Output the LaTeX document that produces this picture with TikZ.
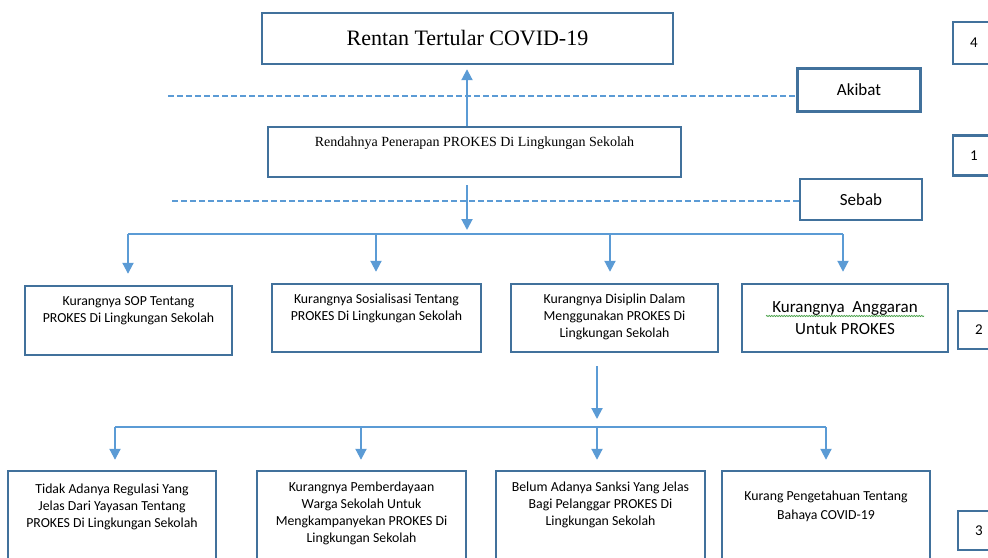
\documentclass[tikz,border=0pt]{standalone}
\usepackage{fontspec}
\setmainfont{Carlito}
\newfontfamily\timesfont{Liberation Serif}
\usetikzlibrary{arrows.meta,positioning,decorations.pathmorphing}
\definecolor{boxblue}{RGB}{65,113,156}
\definecolor{lineblue}{RGB}{91,155,213}
\definecolor{spellgreen}{RGB}{70,160,70}

\begin{document}
\begin{tikzpicture}[x=1pt,y=-1pt,
    box/.style={draw=boxblue, line width=2.4pt, minimum width=207pt, minimum height=68pt, inner sep=0pt},
    tallbox/.style={box, minimum height=140pt},
    numbox/.style={draw=boxblue, line width=2.4pt, minimum width=42pt, minimum height=40pt, inner sep=0pt, font=\fontsize{15}{18}\selectfont},
    tagbox/.style={draw=boxblue, line width=2.4pt, minimum width=123pt, minimum height=43pt, inner sep=0pt, font=\fontsize{17}{20}\selectfont},
    txt/.style={align=center, inner sep=0pt, font=\fontsize{13.8}{17}\selectfont},
    conn/.style={draw=lineblue, line width=2pt},
    arr/.style={conn, -{Triangle[width=11pt,length=11pt]}},
    dashline/.style={conn, dash pattern=on 6pt off 3pt}]
    \useasboundingbox (0,0) rectangle (988,557);
    \clip (0,0) rectangle (988,557);

    % effect and main problem
    \node[box, minimum width=411pt, minimum height=51pt, font=\timesfont\fontsize{22}{26}\selectfont] (rentan) at (467.5,38.5) {Rentan Tertular COVID-19};
    \node[box, minimum width=413pt, minimum height=50pt] (rendah) at (474.5,152) {};
    \node[txt, font=\timesfont\fontsize{14}{17}\selectfont, below=11pt of rendah.north] (rendahText) {Rendahnya Penerapan PROKES Di Lingkungan Sekolah};

    % labels on the right
    \node[tagbox] (akibat) at (859,90) {Akibat};
    \node[tagbox, minimum width=122pt, minimum height=41pt] (sebab) at (861,199.5) {Sebab};
    \node[numbox, minimum height=42pt] (num4) at (974,43) {4};
    \node[numbox] (num1) at (974,155.5) {1};
    \node[numbox, minimum height=38pt] (num2) at (979,330) {2};
    \node[numbox, minimum height=39pt] (num3) at (979,530.5) {3};

    % dashed separators
    \coordinate (akibatLine) at (168,96);
    \coordinate (sebabLine) at (172,201);
    \draw[dashline] (akibatLine) -- (akibatLine -| akibat.west);
    \draw[dashline] (sebabLine) -- (sebabLine -| sebab.west);

    % arrows between main boxes
    \coordinate (hubTop) at (467,234);
    \draw[arr, shorten >=4pt] (rendah.north -| hubTop) -- (rentan.south -| hubTop);
    \draw[arr, shorten <=7pt, shorten >=4pt] (rendah.south -| hubTop) -- (hubTop);

    % second row of causes
    \node[box, minimum height=69pt] (sop) at (128.5,320.5) {};
    \node[box, minimum width=209pt] (sosial) at (376.5,318) {};
    \node[box] (disiplin) at (614.5,318) {};
    \node[box, minimum width=206pt] (anggaran) at (845,318) {};
    \node[txt, below=12pt of sop.north] (sopText) {Kurangnya SOP Tentang\\PROKES Di Lingkungan Sekolah};
    \node[txt, below=11pt of sosial.north] (sosialText) {Kurangnya Sosialisasi Tentang\\PROKES Di Lingkungan Sekolah};
    \node[txt, below=11pt of disiplin.north] (disiplinText) {Kurangnya Disiplin Dalam\\Menggunakan PROKES Di\\Lingkungan Sekolah};
    \node[txt, font=\fontsize{17}{22}\selectfont, below=19pt of anggaran.north] (anggaranText) {Kurangnya\ \ Anggaran\\Untuk PROKES};
    \draw[spellgreen, line width=0.7pt, decorate, decoration={snake, amplitude=0.7pt, segment length=2.5pt}] (766,316) -- (924,316);

    \draw[conn] (128,234) -- (843,234);
    \foreach \b/\xx in {sop/128, sosial/376, disiplin/610, anggaran/843}
        \draw[arr, shorten >=11pt] (\xx,234) -- (\xx,0 |- \b.north);

    % third row of causes
    \coordinate (hubMid) at (597,427);
    \draw[arr, shorten <=13pt, shorten >=8pt] (disiplin.south -| hubMid) -- (hubMid);
    \node[tallbox, minimum width=208pt] (regulasi) at (112,541) {};
    \node[tallbox, minimum width=209pt] (berdaya) at (361.5,541) {};
    \node[tallbox, minimum width=209pt] (sanksi) at (600.5,541) {};
    \node[tallbox, minimum width=208pt] (tahu) at (826,541) {};
    \node[txt, below=14pt of regulasi.north] (regulasiText) {Tidak Adanya Regulasi Yang\\Jelas Dari Yayasan Tentang\\PROKES Di Lingkungan Sekolah};
    \node[txt, below=12pt of berdaya.north] (berdayaText) {Kurangnya Pemberdayaan\\Warga Sekolah Untuk\\Mengkampanyekan PROKES Di\\Lingkungan Sekolah};
    \node[txt, below=12pt of sanksi.north] (sanksiText) {Belum Adanya Sanksi Yang Jelas\\Bagi Pelanggar PROKES Di\\Lingkungan Sekolah};
    \node[txt, font=\fontsize{13.8}{19}\selectfont, below=21pt of tahu.north] (tahuText) {Kurang Pengetahuan Tentang\\Bahaya COVID-19};

    \draw[conn] (115,427) -- (826,427);
    \foreach \b/\xx in {regulasi/115, berdaya/361, sanksi/597, tahu/826}
        \draw[arr, shorten >=10pt] (\xx,427) -- (\xx,0 |- \b.north);
\end{tikzpicture}
\end{document}
